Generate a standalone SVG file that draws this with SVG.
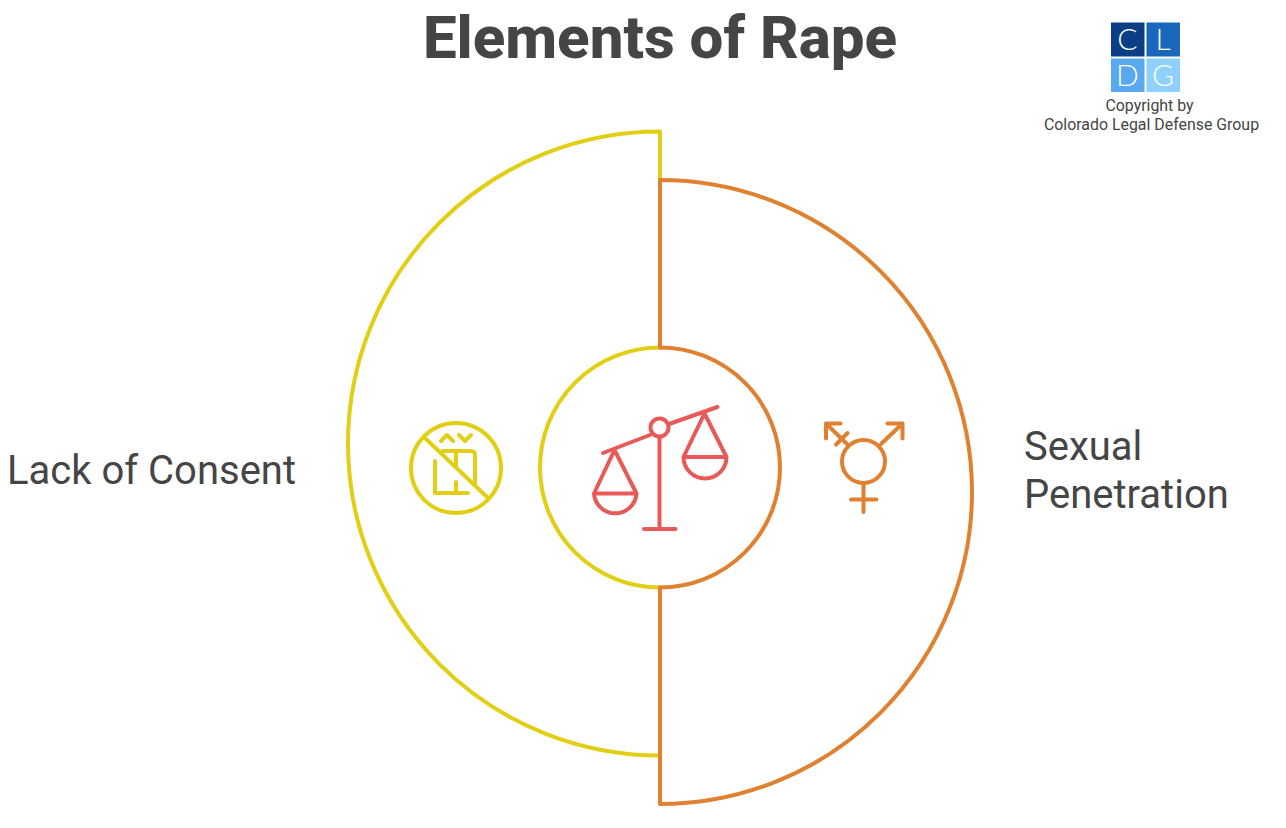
<svg xmlns="http://www.w3.org/2000/svg" width="1286" height="828" viewBox="0 0 1286 828">
<style>
text{font-family:Roboto,"Liberation Sans",sans-serif;fill:#454545}
.s{fill:none;stroke-width:4;stroke-linecap:round;stroke-linejoin:round}
.y{stroke:#E2CE14}.o{stroke:#DF8130}.r{stroke:#E85A58}
.big{font-size:40px}.small{font-size:15.9px}
.logo{font-family:Lato,Roboto,sans-serif;font-weight:300;font-size:30px;fill:#fff;text-anchor:middle}
</style>
<rect width="1286" height="828" fill="#fff"/>
<text x="660" y="58" text-anchor="middle" font-size="60" font-weight="800">Elements of Rape</text>
<g id="logo">
<rect x="1111" y="22.500" width="33.500" height="34" fill="#0B3F85"/>
<rect x="1146.500" y="22.500" width="33.500" height="34" fill="#1A68BE"/>
<rect x="1111" y="58.500" width="33.500" height="33.500" fill="#5AA9F0"/>
<rect x="1146.500" y="58.500" width="33.500" height="33.500" fill="#8FD0FF"/>
<text class="logo" x="1127.500" y="50">C</text>
<text class="logo" x="1163" y="50">L</text>
<text class="logo" x="1127.500" y="86">D</text>
<text class="logo" x="1163" y="86">G</text>
<text class="small" x="1149.500" y="110.500" text-anchor="middle">Copyright by</text>
<text class="small" x="1151.500" y="129.500" text-anchor="middle">Colorado Legal Defense Group</text>
</g>
<g id="connectors"></g>
<g id="node-consent">
<path class="s y" d="M660 755.500A312 312 0 0 1 660 131.500V182"/>
<path class="s y" d="M660 587.500A120 120 0 0 1 660 347.500"/>
<g class="s y">
<circle cx="456" cy="468" r="45"/>
<path d="M425 438L487 497"/>
<path d="M435 461V493H468M443 451H471Q475 451 475 455V485M456 451V466M456 482V493"/>
<path d="M441 441L447 435L453 441M459 435L465 441L471 435"/>
</g>
<text class="big" x="7" y="484">Lack of Consent</text>
</g>
<g id="node-penetration">
<path class="s o" d="M660 180A312 312 0 0 1 660 804V587.500M660 347.500V180"/>
<path class="s o" d="M660 347.500A120 120 0 0 1 660 587.500"/>
<g class="s o">
<circle cx="863.500" cy="461.500" r="21.500"/>
<path d="M881 444L902.500 423.500M887.500 423.500H902.500V438.500"/>
<path d="M847 444L826 423.500M840.500 423.500H826V438.500M836 444.500L847.500 433"/>
<path d="M863.500 483V512M851 499.500H876.500"/>
</g>
<text class="big" x="1024" y="460">Sexual</text>
<text class="big" x="1024" y="508">Penetration</text>
</g>
<g id="node-center" class="s r">
<path d="M603 453L650 435M669 424L717.500 407"/>
<circle cx="659.500" cy="427.500" r="9"/>
<path d="M659.500 437V529M644 529H675.500"/>
<path d="M614.500 450L594 493.500H636.500L614.500 450M594 493.500A21.300 21.300 0 0 0 636.500 493.500"/>
<path d="M704.500 413.500L683.500 457H726.500L704.500 413.500M683.500 457A21.500 21.500 0 0 0 726.500 457"/>
</g>
</svg>
